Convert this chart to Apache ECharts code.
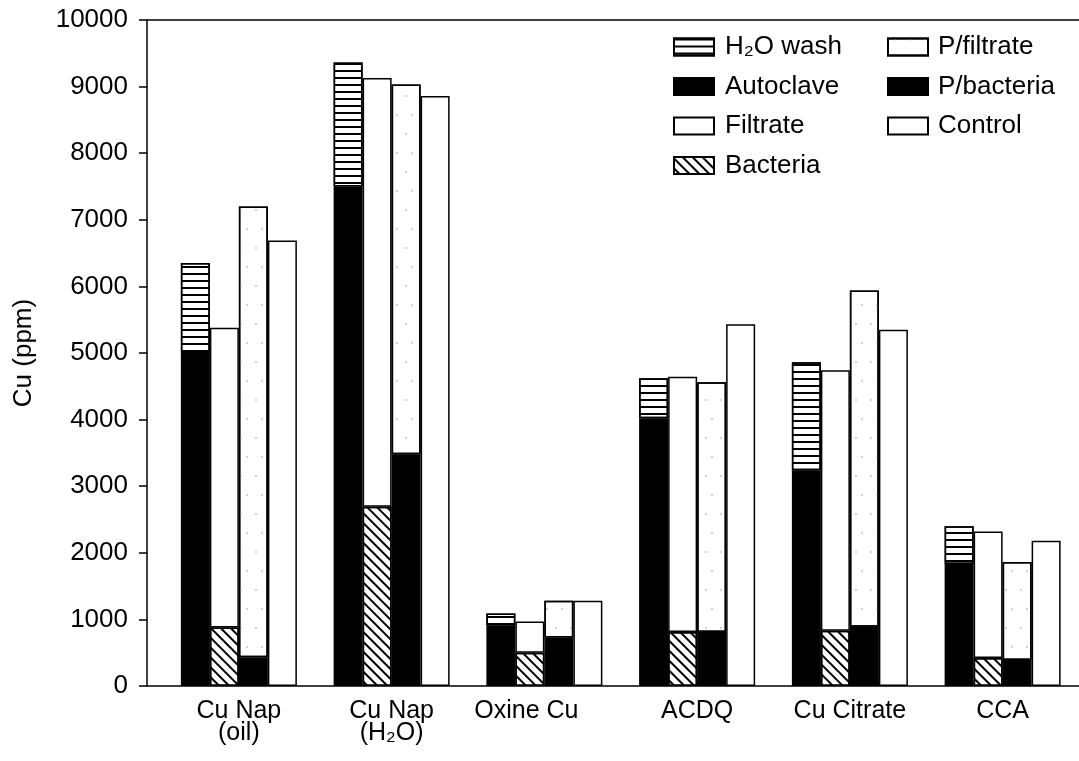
<!DOCTYPE html>
<html><head><meta charset="utf-8">
<script src="https://cdn.jsdelivr.net/npm/echarts@6/dist/echarts.min.js"></script>
<style>html,body{margin:0;padding:0;background:#fff}#c{width:1079px;height:761px}</style>
</head><body><div id="c"></div>
<script>
// ---- data (segment values, ppm) ----
const categories = ['Cu Nap\n(oil)', 'Cu Nap\n(H₂O)', 'Oxine Cu', 'ACDQ', 'Cu Citrate', 'CCA'];
const autoclave  = [5000, 7500, 910, 4020, 3240, 1830];
const h2oWash    = [1350, 1860, 180, 600, 1620, 570];
const bacteria   = [880, 2690, 500, 810, 830, 420];
const filtrate   = [4500, 6440, 470, 3835, 3910, 1900];
const pBacteria  = [430, 3480, 730, 810, 890, 390];
const pFiltrate  = [6770, 5550, 550, 3750, 5050, 1470];
const control    = [6690, 8860, 1280, 5430, 5350, 2180];
const legendCol1 = ['H₂O wash', 'Autoclave', 'Filtrate', 'Bacteria'];
const legendCol2 = ['P/filtrate', 'P/bacteria', 'Control'];

const FONT = '"Liberation Sans", Arial, Helvetica, sans-serif';
const chart = echarts.init(document.getElementById('c'), null, {renderer: 'canvas'});

const stripesH = {symbol: 'rect', symbolSize: 1, color: '#000', dashArrayX: [1, 0], dashArrayY: [1.6, 4.6], rotation: 0};
const hatch = {symbol: 'rect', symbolSize: 1, color: '#000', dashArrayX: [1, 0], dashArrayY: [1.6, 4.2], rotation: Math.PI / 4};
const stipple = {symbol: 'circle', symbolSize: 1, color: '#c4c4c4', dashArrayX: [[1.2, 13], [0, 6, 1.2, 7]], dashArrayY: [1.2, 17], rotation: 0};

function bar(name, data, stack, color, decal) {
  const itemStyle = {color: color, borderColor: '#000', borderWidth: 1.5};
  if (decal) itemStyle.decal = decal;
  return {
    name: name, type: 'bar', xAxisIndex: 2, yAxisIndex: 1, stack: stack, data: data,
    barWidth: 29, barGap: '0%', itemStyle: itemStyle, emphasis: {disabled: true}
  };
}

const lineStyle = {color: '#000', width: 1.5};
const legendBase = {
  orient: 'vertical', top: 34, itemWidth: 40, itemHeight: 17, itemGap: 13.5, icon: 'rect',
  padding: 0, selectedMode: false,
  textStyle: {fontSize: 26, fontFamily: FONT, color: '#000', padding: [0, 0, 0, 5]}
};

chart.setOption({
  animation: false,
  backgroundColor: '#fff',
  textStyle: {fontFamily: FONT},
  grid: [
    {left: 147, right: 0, top: 20, bottom: 75},
    {left: 162.5, width: 930, top: 20, bottom: 75}
  ],
  legend: [
    Object.assign({}, legendBase, {left: 673, data: legendCol1, textStyle: Object.assign({}, legendBase.textStyle, {padding: [0, 0, 0, 6]})}),
    Object.assign({}, legendBase, {left: 887, data: legendCol2})
  ],
  xAxis: [
    {gridIndex: 0, type: 'value', min: 0, max: 1, position: 'bottom',
     axisLine: {show: true, onZero: false, lineStyle: lineStyle}, axisTick: {show: false}, axisLabel: {show: false}, splitLine: {show: false}},
    {gridIndex: 0, type: 'value', min: 0, max: 1, position: 'top',
     axisLine: {show: true, onZero: false, lineStyle: lineStyle}, axisTick: {show: false}, axisLabel: {show: false}, splitLine: {show: false}},
    {gridIndex: 1, type: 'category', data: categories, position: 'bottom',
     axisLine: {show: false}, axisTick: {show: false}, splitLine: {show: false},
     axisLabel: {
       margin: 14, fontSize: 25, lineHeight: 22, color: '#000', fontFamily: FONT, interval: 0,
       formatter: function (v) { return v === 'Oxine Cu' ? '{s|' + v + '}' : v; },
       rich: {s: {fontSize: 25, fontFamily: FONT, color: '#000', lineHeight: 22, padding: [0, 36, 0, 0]}}
     }}
  ],
  yAxis: [
    {gridIndex: 0, type: 'value', min: 0, max: 10000, interval: 1000,
     name: 'Cu (ppm)', nameLocation: 'middle', nameGap: 110, nameRotate: 90,
     nameTextStyle: {fontSize: 26, fontFamily: FONT, color: '#000'},
     axisLine: {show: true, onZero: false, lineStyle: lineStyle},
     axisTick: {show: true, length: 8, lineStyle: lineStyle},
     axisLabel: {fontSize: 26, fontFamily: FONT, color: '#000', margin: 19, formatter: function (v) { return String(v); }},
     splitLine: {show: false}},
    {gridIndex: 1, type: 'value', min: 0, max: 10000, interval: 1000, show: false, splitLine: {show: false}}
  ],
  series: [
    bar('Autoclave', autoclave, 'a', '#000'),
    bar('H₂O wash', h2oWash, 'a', '#fff', stripesH),
    bar('Bacteria', bacteria, 'b', '#fff', hatch),
    bar('Filtrate', filtrate, 'b', '#fff'),
    bar('P/bacteria', pBacteria, 'c', '#000'),
    bar('P/filtrate', pFiltrate, 'c', '#fff', stipple),
    bar('Control', control, 'd', '#fff')
  ]
});
</script>
</body></html>
